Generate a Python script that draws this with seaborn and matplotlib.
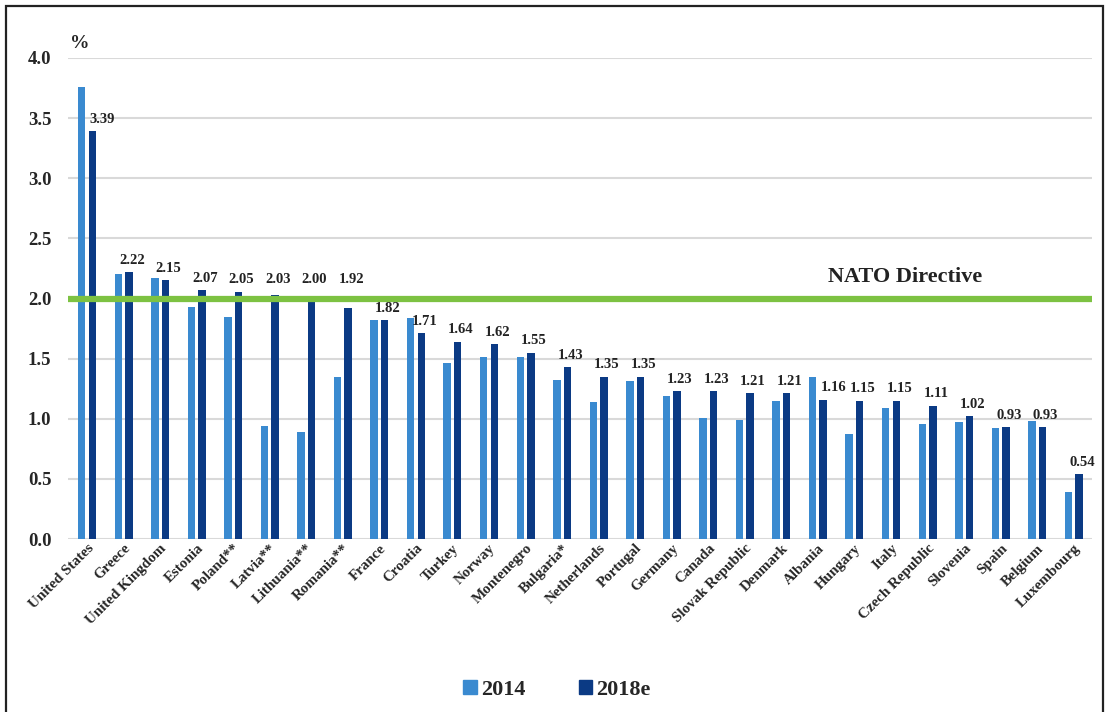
import numpy as np
import pandas as pd
import matplotlib
matplotlib.use("Agg")
import matplotlib.pyplot as plt
import matplotlib.patches as mpatches
import seaborn as sns

countries = ["United States", "Greece", "United Kingdom", "Estonia", "Poland**",
             "Latvia**", "Lithuania**", "Romania**", "France", "Croatia",
             "Turkey", "Norway", "Montenegro", "Bulgaria*", "Netherlands",
             "Portugal", "Germany", "Canada", "Slovak Republic", "Denmark",
             "Albania", "Hungary", "Italy", "Czech Republic", "Slovenia",
             "Spain", "Belgium", "Luxembourg"]
vals_2014 = [3.76, 2.20, 2.17, 1.93, 1.85, 0.94, 0.89, 1.35, 1.82, 1.84,
             1.46, 1.51, 1.51, 1.32, 1.14, 1.31, 1.19, 1.01, 0.99, 1.15,
             1.35, 0.87, 1.09, 0.96, 0.97, 0.92, 0.98, 0.39]
vals_2018 = [3.39, 2.22, 2.15, 2.07, 2.05, 2.03, 2.00, 1.92, 1.82, 1.71,
             1.64, 1.62, 1.55, 1.43, 1.35, 1.35, 1.23, 1.23, 1.21, 1.21,
             1.16, 1.15, 1.15, 1.11, 1.02, 0.93, 0.93, 0.54]
years = ["2014", "2018e"]
nato_target = 2.0

light = "#3a8ad0"
dark = "#0b3a84"
serif = ["Liberation Serif", "DejaVu Serif"]

df = pd.DataFrame({
    "country": countries * 2,
    "year": [years[0]] * len(countries) + [years[1]] * len(countries),
    "value": vals_2014 + vals_2018,
})

sns.set_style("white")
plt.rcParams["font.family"] = serif
plt.rcParams["font.weight"] = "bold"

fig = plt.figure(figsize=(11.05, 7.12), dpi=100)
ax = fig.add_axes([68 / 1105, 1 - 539 / 712, (1092 - 68) / 1105, (539 - 58) / 712])

sns.barplot(data=df, x="country", y="value", hue="year", order=countries,
            hue_order=years, palette={years[0]: light, years[1]: dark},
            width=0.58, gap=0.3, edgecolor="none", linewidth=0,
            saturation=1, legend=False, ax=ax)

ax.set_ylim(0, 4.0)
ax.set_xlim(-0.52, len(countries) - 0.5)
ax.set_yticks(np.arange(0, 4.01, 0.5))
ax.set_yticklabels([f"{v:.1f}" for v in np.arange(0, 4.01, 0.5)], fontsize=13.5,
                   fontweight="bold")
ax.yaxis.grid(True, color="#d9d9d9", linewidth=1.5)
ax.set_axisbelow(True)
for s in ax.spines.values():
    s.set_visible(False)
ax.tick_params(axis="both", length=0)
ax.tick_params(axis="y", pad=12)
ax.tick_params(axis="x", pad=2)
ax.set_xlabel("")
ax.set_ylabel("")
plt.setp(ax.get_xticklabels(), rotation=45, ha="right", rotation_mode="anchor",
         fontsize=10.8, fontweight="bold")

# value labels on 2018e bars, pushed above the directive line when close to it
for bar, v, v0 in zip(ax.containers[1], vals_2018, vals_2014):
    y = v + 0.1
    if 1.85 < v < 2.1:
        y = max(y, 2.16)
    dx = 10 if v0 > v + 0.15 else 3
    ax.annotate(f"{v:.2f}", (bar.get_x() + bar.get_width() / 2, y),
                xytext=(dx * 0.72, 0), textcoords="offset points", ha="center",
                va="center", fontsize=10.5, fontweight="bold", color="#222222",
                zorder=6)

ax.axhline(nato_target, color="#7dc242", linewidth=4.5, zorder=5)
ax.text(22.4, 2.18, "NATO Directive", fontsize=16, fontweight="bold",
        color="#222222", ha="center", va="center")
ax.text(-0.2, 4.05, "%", fontsize=14, fontweight="bold",
        ha="center", va="bottom", clip_on=False)

handles = [mpatches.Patch(color=light, label=years[0]),
           mpatches.Patch(color=dark, label=years[1])]
fig.legend(handles=handles, loc="center", bbox_to_anchor=(557 / 1105, 1 - 690 / 712),
           ncol=2, frameon=False, fontsize=16, handlelength=0.6, handleheight=0.6,
           handletextpad=0.2, columnspacing=2.4)

frame = mpatches.Rectangle((6 / 1105, -0.01), (1103 - 6) / 1105, 1 - 6 / 712 + 0.01,
                           transform=fig.transFigure, fill=False,
                           edgecolor="#222222", linewidth=1.6)
fig.patches.append(frame)

fig.savefig("out.png", dpi=100)
